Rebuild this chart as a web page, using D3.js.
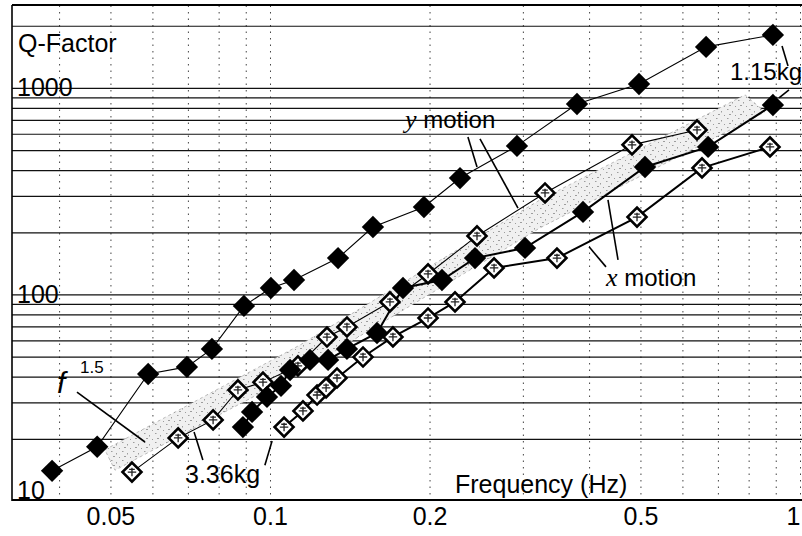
<!DOCTYPE html>
<html><head><meta charset="utf-8">
<script src="https://cdn.jsdelivr.net/npm/d3@7/dist/d3.min.js"></script>
<style>
html,body{margin:0;padding:0;background:#fff;}
svg{display:block;}
text{font-family:"Liberation Sans",Arial,Helvetica,sans-serif;fill:#000;}
</style></head><body>
<svg id="chart" width="802" height="536"></svg>
<script>
// ---------- data ----------
const xTickValues = [0.05, 0.1, 0.2, 0.5, 1];
const xTickLabels = ["0.05", "0.1", "0.2", "0.5", "1"];
const yTickValues = [10, 100, 1000];
const yTickLabels = ["10", "100", "1000"];
const yGridValues = [20,30,40,50,60,70,80,90,100,200,300,400,500,600,700,800,900,1000,2000];
const xGridValues = [0.04,0.05,0.06,0.07,0.08,0.09,0.1,0.2,0.3,0.4,0.5,0.6,0.7,0.8,0.9,1];

// y motion, 1.15 kg (filled diamonds, thin line)
const yMotion115Freq = [0.0388,0.0472,0.0589,0.0697,0.0777,0.0893,0.1004,0.111,0.1344,0.1564,0.1952,0.2283,0.2924,0.3795,0.4969,0.665,0.889];
const yMotion115Q    = [14.0,18.3,41.2,44.6,54.5,88,107.5,117.5,150,212,265,366,524,836,1045,1580,1806];
// y motion, 3.36 kg (open diamonds, thin line)
const yMotion336Freq = [0.0549,0.0671,0.0781,0.0870,0.0970,0.1129,0.1281,0.1397,0.1684,0.1987,0.2458,0.3303,0.482,0.6393];
const yMotion336Q    = [13.8,20.2,24.7,34.5,37.6,45.1,62.2,69.6,92,125.7,192,310,530,626];
// x motion, 1.15 kg (filled diamonds, thick line)
const xMotion115Freq = [0.0889,0.0925,0.0987,0.1049,0.1091,0.119,0.1287,0.1397,0.1592,0.1782,0.2111,0.2437,0.3028,0.3896,0.51,0.6708,0.889];
const xMotion115Q    = [22.8,27.0,31.9,36.1,43.1,48.2,48.2,54.5,65.1,107.5,117.5,150,168,251,414,518,827];
// x motion, 3.36 kg (open diamonds, thick line)
const xMotion336Freq = [0.1063,0.1154,0.1227,0.1276,0.1338,0.1498,0.1706,0.1987,0.2234,0.2647,0.3479,0.4926,0.6533,0.8778];
const xMotion336Q    = [22.8,27.3,32.6,35.3,39.4,49.8,62.3,76.9,92,134.4,150,237,410,518];

// f^1.5 shaded band edges
const bandUpperFreq = [0.0488,0.1139,0.3232,0.7876];
const bandUpperQ    = [17.7,56.9,287,925];
const bandLowerFreq = [0.0510,0.1139,0.3232,0.859];
const bandLowerQ    = [14.1,42.1,210,765];

// leader lines [f1,Q1,f2,Q2]
const leaderYMotion = [[0.2363,579,0.2458,414],[0.2490,566,0.2937,262]];
const leaderXMotion = [[0.4342,287,0.4536,147],[0.3999,170,0.4305,136]];
const leader115 = [[0.9249,1597,0.9493,1278],[0.9533,978,0.9129,894]];
const leader336 = [[0.0719,21.6,0.0747,15.8],[0.1009,19.5,0.0978,14.9]];
const leaderF15 = [[0.04323,33.7,0.0581,19.3]];

// ---------- drawing ----------
const W = 802, H = 536;
const plotLeft = 12, plotRight = 800, plotTop = 5, plotBottom = 501;
const svg = d3.select("#chart");
svg.append("rect").attr("width", W).attr("height", H).attr("fill", "#fff");

const x = d3.scaleLog().domain([0.0326, 1]).range([plotLeft, plotRight]);
const y = d3.scaleLog().domain([10, 2520]).range([plotBottom, plotTop]);

const defs = svg.append("defs");
const sp = defs.append("pattern").attr("id", "speckle").attr("patternUnits", "userSpaceOnUse")
  .attr("width", 11).attr("height", 9);
[[1,1,1.5,1],[6,3,1,1.5],[3,6,2,1],[9,7,1,1]].forEach(r =>
  sp.append("rect").attr("x", r[0]).attr("y", r[1]).attr("width", r[2]).attr("height", r[3]).attr("fill", "#666"));

// vertical dotted grid
svg.append("g").attr("transform", `translate(0,${plotBottom})`)
  .call(d3.axisBottom(x).tickValues(xGridValues).tickSize(-(plotBottom - plotTop)).tickFormat(""))
  .call(g => g.select(".domain").remove())
  .selectAll("line").attr("stroke", "#444").attr("stroke-width", 1).attr("stroke-dasharray", "1.5,5");

// horizontal grid
svg.append("g").attr("transform", `translate(${plotLeft},0)`)
  .call(d3.axisRight(y).tickValues(yGridValues).tickSize(W - plotLeft).tickFormat(""))
  .call(g => g.select(".domain").remove())
  .selectAll("line").attr("stroke", "#111").attr("stroke-width", 1.2);

// frame lines
svg.append("line").attr("x1", plotLeft).attr("x2", plotLeft).attr("y1", plotTop).attr("y2", plotBottom)
  .attr("stroke", "#000").attr("stroke-width", 1.6);
svg.append("line").attr("x1", plotLeft).attr("x2", W).attr("y1", plotBottom - 1).attr("y2", plotBottom - 1)
  .attr("stroke", "#000").attr("stroke-width", 2);
svg.append("line").attr("x1", plotLeft).attr("x2", W).attr("y1", plotTop).attr("y2", plotTop)
  .attr("stroke", "#000").attr("stroke-width", 2);

// band
const up = d3.zip(bandUpperFreq, bandUpperQ);
const lo = d3.zip(bandLowerFreq, bandLowerQ).reverse();
const bandPts = up.concat(lo).map(d => [x(d[0]), y(d[1])]);
svg.append("path").attr("d", "M" + bandPts.join("L") + "Z").attr("fill", "#f0f0f0").attr("stroke", "#aaa").attr("stroke-width", 0.8).attr("stroke-dasharray", "3,3");
svg.append("path").attr("d", "M" + bandPts.join("L") + "Z").attr("fill", "url(#speckle)").attr("opacity", 0.6);

// series
const line = d3.line().x(d => x(d[0])).y(d => y(d[1]));
const series = [
  {f: yMotion115Freq, q: yMotion115Q, filled: true,  lw: 1.1},
  {f: yMotion336Freq, q: yMotion336Q, filled: false, lw: 1.1},
  {f: xMotion115Freq, q: xMotion115Q, filled: true,  lw: 2},
  {f: xMotion336Freq, q: xMotion336Q, filled: false, lw: 2}
];
series.forEach(s => {
  svg.append("path").datum(d3.zip(s.f, s.q)).attr("d", line)
    .attr("fill", "none").attr("stroke", "#000").attr("stroke-width", s.lw);
});
const sqFilled = d3.symbol(d3.symbolSquare, 250)();
const sqOpen = d3.symbol(d3.symbolSquare, 180)();
series.forEach(s => {
  const g = svg.append("g");
  d3.zip(s.f, s.q).forEach(d => {
    const t = `translate(${x(d[0])},${y(d[1])}) rotate(45)`;
    if (s.filled) {
      g.append("path").attr("d", sqFilled).attr("transform", t).attr("fill", "#000");
    } else {
      g.append("path").attr("d", sqOpen).attr("transform", t).attr("fill", "#fff")
        .attr("stroke", "#000").attr("stroke-width", 2.6);
      g.append("path").attr("d", "M-3,-3L3,3M-3,3L3,-3M-4,0L0,-4").attr("transform", t)
        .attr("stroke", "#222").attr("stroke-width", 1.3).attr("fill", "none");
    }
  });
});

// axes labels
const xAx = svg.append("g").attr("transform", `translate(0,${plotBottom})`)
  .call(d3.axisBottom(x).tickValues(xTickValues).tickFormat((d, i) => xTickLabels[i]).tickSize(0).tickPadding(6));
xAx.select(".domain").remove();
xAx.selectAll("text").attr("font-size", 25).attr("font-family", "Liberation Sans, Arial, sans-serif").attr("fill", "#000")
  .attr("text-anchor", d => d === 1 ? "end" : "middle");

const yAx = svg.append("g").attr("transform", `translate(${plotLeft},0)`)
  .call(d3.axisRight(y).tickValues(yTickValues).tickFormat((d, i) => yTickLabels[i]).tickSize(0).tickPadding(5));
yAx.select(".domain").remove();
yAx.selectAll("text").attr("font-size", 25).attr("font-family", "Liberation Sans, Arial, sans-serif").attr("fill", "#000")
  .attr("y", d => d === 10 ? -11 : 0);

// text annotations
function txt(s, px, py, size) {
  return svg.append("text").attr("x", px).attr("y", py).attr("font-size", size).text(s);
}
txt("Q-Factor", 18, 52, 25);
txt("Frequency (Hz)", 455, 493, 25);
txt("1.15kg", 730, 80, 24);
txt("3.36kg", 185, 483, 25);
const ym = svg.append("text").attr("x", 405).attr("y", 128).attr("font-size", 24);
ym.append("tspan").attr("font-family", "Liberation Serif, Times New Roman, serif").attr("font-style", "italic").attr("font-size", 26).text("y");
ym.append("tspan").text(" motion");
const xm = svg.append("text").attr("x", 606).attr("y", 286).attr("font-size", 24);
xm.append("tspan").attr("font-family", "Liberation Serif, Times New Roman, serif").attr("font-style", "italic").attr("font-size", 26).text("x");
xm.append("tspan").text(" motion");
svg.append("text").attr("x", 57).attr("y", 393).attr("font-size", 30)
  .attr("font-family", "Liberation Serif, Times New Roman, serif").attr("font-style", "italic").text("f");
txt("1.5", 80, 373, 17);

// leader lines
[leaderYMotion, leaderXMotion, leader115, leader336, leaderF15].forEach(set => {
  set.forEach(l => {
    svg.append("line").attr("x1", x(l[0])).attr("y1", y(l[1])).attr("x2", x(l[2])).attr("y2", y(l[3]))
      .attr("stroke", "#000").attr("stroke-width", 1.6);
  });
});
</script>
</body></html>
